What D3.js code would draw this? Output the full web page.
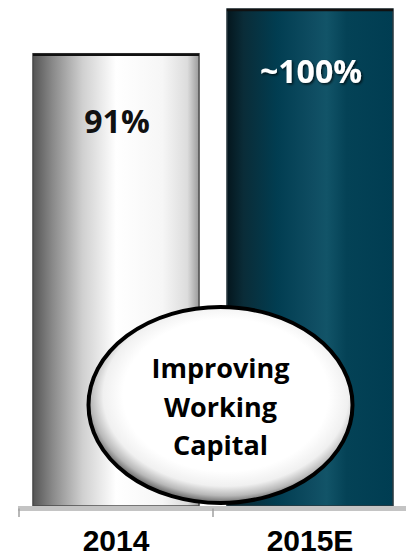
<!DOCTYPE html>
<html>
<head>
<meta charset="utf-8">
<script src="https://cdn.jsdelivr.net/npm/d3@7"></script>
<style>
  html, body { margin: 0; padding: 0; background: #fff; }
  svg { display: block; }
</style>
</head>
<body>
<script>
// Cash conversion, 2014 vs 2015 estimate
const categories = ["2014", "2015E"];
const values = [91, 100];
const valueLabels = ["91%", "~100%"];
const calloutLines = ["Improving", "Working", "Capital"];

const W = 406, H = 556;
const svg = d3.select("body").append("svg").attr("width", W).attr("height", H);
const defs = svg.append("defs");

// Cylinder-like horizontal shading for each bar
const grads = [
  { id: "g2014", stops: [[0, "#555555"], [0.12, "#8a8a8a"], [0.3, "#d0d0d0"], [0.5, "#ffffff"], [0.78, "#f6f6f6"], [0.93, "#dcdcdc"], [1, "#9a9a9a"]] },
  { id: "g2015", stops: [[0, "#04161d"], [0.1, "#0a2c38"], [0.3, "#013d51"], [0.52, "#0f4d62"], [0.6, "#125468"], [0.72, "#044256"], [1, "#003d52"]] }
];
grads.forEach(g => {
  const lg = defs.append("linearGradient").attr("id", g.id)
    .attr("x1", "0%").attr("x2", "100%").attr("y1", "0%").attr("y2", "0%");
  g.stops.forEach(s => lg.append("stop").attr("offset", s[0]).attr("stop-color", s[1]));
});

const rg = defs.append("radialGradient").attr("id", "bubble")
  .attr("cx", "52%").attr("cy", "45%").attr("r", "54%");
[[0, "#ffffff"], [0.72, "#ffffff"], [0.86, "#f0f0f0"], [0.95, "#b8b8b8"], [1, "#7a7a7a"]]
  .forEach(s => rg.append("stop").attr("offset", s[0]).attr("stop-color", s[1]));

const shadow = defs.append("filter").attr("id", "txtShadow")
  .attr("x", "-20%").attr("y", "-20%").attr("width", "140%").attr("height", "160%");
shadow.append("feDropShadow").attr("dx", 1.5).attr("dy", 1.5).attr("stdDeviation", 1.2)
  .attr("flood-color", "#000").attr("flood-opacity", 0.7);

const x = d3.scaleBand().domain(categories).range([19, 407])
  .paddingInner(0.144).paddingOuter(0.072);
const y = d3.scaleLinear().domain([0, 100]).range([506, 9]);

// Bars
const bars = svg.append("g");
categories.forEach((c, i) => {
  const x0 = x(c), bw = x.bandwidth(), top = y(values[i]), bot = y(0);
  bars.append("rect")
    .attr("x", x0).attr("y", top).attr("width", bw).attr("height", bot - top)
    .attr("fill", `url(#${grads[i].id})`)
    .attr("stroke", i === 0 ? "#4a4a4a" : "#2a3a40").attr("stroke-width", 1.5);
  // darker top cap
  bars.append("line")
    .attr("x1", x0).attr("x2", x0 + bw).attr("y1", top + 1).attr("y2", top + 1)
    .attr("stroke", "#111").attr("stroke-width", 2.5);
});

// Value labels inside bars
svg.append("g").selectAll("text").data(categories).join("text")
  .attr("x", c => x(c) + x.bandwidth() / 2 + 1)
  .attr("y", (c, i) => y(values[i]) + (i === 0 ? 79 : 74))
  .attr("text-anchor", "middle")
  .attr("font-family", "'Open Sans', Lato, sans-serif")
  .attr("font-weight", 700).attr("font-size", 32)
  .attr("fill", (c, i) => i === 0 ? "#111" : "#fff")
  .attr("filter", (c, i) => i === 0 ? null : "url(#txtShadow)")
  .text((c, i) => valueLabels[i]);

// Category axis
const axisY = 508.5;
svg.append("line").attr("x1", 18).attr("x2", W).attr("y1", axisY).attr("y2", axisY)
  .attr("stroke", "#c4c4c4").attr("stroke-width", 5);
const tickXs = [x.range()[0], x.range()[0] + x.step()];
svg.append("g").selectAll("line").data(tickXs).join("line")
  .attr("x1", d => d).attr("x2", d => d).attr("y1", axisY).attr("y2", 517)
  .attr("stroke", "#a0a0a0").attr("stroke-width", 1.5);
svg.append("g").selectAll("text").data(categories).join("text")
  .attr("x", c => x(c) + x.bandwidth() / 2)
  .attr("y", 551)
  .attr("text-anchor", "middle")
  .attr("font-family", "'Liberation Sans', Arial, sans-serif")
  .attr("font-weight", 700).attr("font-size", 30)
  .attr("fill", "#000")
  .text(c => c);

// Callout bubble
const cx = 220.5, cy = 405;
svg.append("ellipse").attr("cx", cx).attr("cy", cy).attr("rx", 132).attr("ry", 98)
  .attr("fill", "url(#bubble)").attr("stroke", "#000").attr("stroke-width", 4);
svg.append("g").selectAll("text").data(calloutLines).join("text")
  .attr("x", cx)
  .attr("y", (d, i) => 378 + i * 38.5)
  .attr("text-anchor", "middle")
  .attr("font-family", "'Open Sans', Lato, sans-serif")
  .attr("font-weight", 700).attr("font-size", 27)
  .attr("fill", "#000")
  .text(d => d);
</script>
</body>
</html>
